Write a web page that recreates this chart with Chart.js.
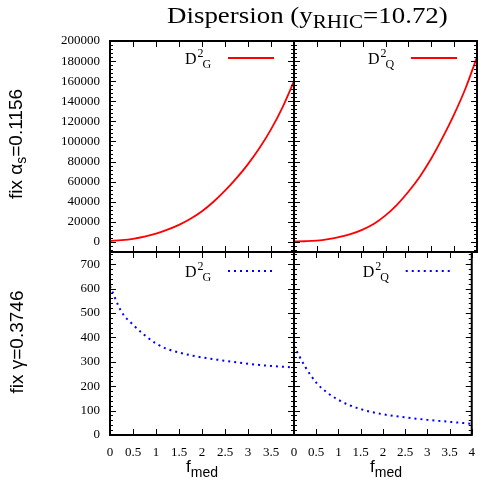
<!DOCTYPE html>
<html lang="en">
<head>
<meta charset="UTF-8" />
<title>Dispersion</title>
<script src="https://cdn.jsdelivr.net/npm/chart.js@4.4.0/dist/chart.umd.min.js"></script>
<style>
  body { margin: 0; background: #fff; }
  #wrap { position: relative; width: 485px; height: 480px; overflow: hidden; }
  #wrap canvas { position: absolute; left: 0; top: 0; }
  .title { position: absolute; left: 167px; top: 3px; font-family: "Liberation Serif", serif; font-size: 23px; white-space: nowrap; transform: scaleX(1.17); transform-origin: left top; }
  .title sub { font-size: 18px; vertical-align: -5px; }
  .ylab { position: absolute; font-family: "Liberation Sans", sans-serif; font-size: 19px; white-space: nowrap; transform: translate(-50%, -50%) rotate(-90deg); }
  .ylab sub { font-size: 14px; vertical-align: -4px; }
  .xlab { position: absolute; font-family: "Liberation Sans", sans-serif; font-size: 17px; white-space: nowrap; }
  .xlab sub { font-size: 14px; vertical-align: -5px; }
</style>
</head>
<body>
<div id="wrap">
  <canvas id="cTL" width="485" height="480"></canvas>
  <canvas id="cTR" width="485" height="480"></canvas>
  <canvas id="cBL" width="485" height="480"></canvas>
  <canvas id="cBR" width="485" height="480"></canvas>
  <div class="title">Dispersion (y<sub>RHIC</sub>=10.72)</div>
  <div class="ylab" style="left:17px;top:144px;">fix α<sub>s</sub>=0.1156</div>
  <div class="ylab" style="left:17px;top:342px;">fix γ=0.3746</div>
  <div class="xlab" style="left:186px;top:457px;">f<sub>med</sub></div>
  <div class="xlab" style="left:370px;top:457px;">f<sub>med</sub></div>
</div>
<script>
  // f_med sample points
  const fmed = [0, 0.25, 0.5, 0.75, 1, 1.25, 1.5, 1.75, 2, 2.25, 2.5, 2.75, 3, 3.25, 3.5, 3.75, 4];

  // fixed alpha_s (top row)
  const topG = [1000, 1800, 3100, 5200, 8200, 12200, 17000, 23000, 30500, 40000, 51000, 63500, 77500, 93500, 112000, 134000, 160000];
  const topQ = [500, 700, 1300, 2800, 5000, 8000, 12300, 18100, 26500, 37000, 50000, 65000, 83000, 104000, 127000, 153000, 184000];

  // fixed gamma (bottom row)
  const botG = [610, 505, 452, 410, 375, 352, 338, 327, 318, 311, 304, 298, 292, 287, 283, 280, 277];
  const botQ = [365, 280, 215, 173, 144, 122, 106, 94, 85, 78, 72, 67, 62, 58, 54, 50, 46];

  // tick labels
  const xTicks = [0, 0.5, 1, 1.5, 2, 2.5, 3, 3.5, 4];
  const yTopTicks = [0, 20000, 40000, 60000, 80000, 100000, 120000, 140000, 160000, 180000, 200000];
  const yBotTicks = [0, 100, 200, 300, 400, 500, 600, 700];

  const serif = "'Liberation Serif', 'Times New Roman', serif";

  function pts(ys) {
    return fmed.map((f, i) => ({ x: f, y: ys[i] }));
  }

  // gnuplot-like frame: border + inward ticks on all four sides, plus the key
  const framePlugin = {
    id: "frame",
    afterDraw(chart, args, opts) {
      const { ctx, chartArea: a, scales } = chart;
      const x = scales.x, y = scales.y;
      ctx.save();
      ctx.strokeStyle = "#000";
      ctx.lineWidth = 1;
      ctx.beginPath();
      x.ticks.forEach((t) => {
        const px = Math.round(x.getPixelForValue(t.value)) + 0.5;
        ctx.moveTo(px, a.bottom); ctx.lineTo(px, a.bottom - 6);
        ctx.moveTo(px, a.top); ctx.lineTo(px, a.top + 6);
      });
      y.ticks.forEach((t) => {
        const py = Math.round(y.getPixelForValue(t.value)) + 0.5;
        ctx.moveTo(a.left, py); ctx.lineTo(a.left + 6, py);
        ctx.moveTo(a.right, py); ctx.lineTo(a.right - 6, py);
      });
      const m = opts.minor;
      for (let v = Math.ceil(y.min / m) * m; v <= y.max; v += m) {
        const py = Math.round(y.getPixelForValue(v)) + 0.5;
        ctx.moveTo(a.left, py); ctx.lineTo(a.left + 3, py);
        ctx.moveTo(a.right, py); ctx.lineTo(a.right - 3, py);
      }
      ctx.stroke();
      ctx.lineWidth = 2;
      ctx.strokeRect(a.left, a.top, a.right - a.left, a.bottom - a.top);

      // key
      const ds = chart.data.datasets[0];
      const tx = a.right - 109, ty = a.top + opts.keyDy + 6;
      ctx.fillStyle = "#000";
      ctx.textBaseline = "alphabetic";
      ctx.font = "16px " + serif;
      ctx.fillText("D", tx, ty);
      const dw = ctx.measureText("D").width;
      ctx.font = "12px " + serif;
      ctx.fillText("2", tx + dw + 1, ty - 7);
      const sw = ctx.measureText("2").width;
      ctx.fillText(opts.sub, tx + dw + sw, ty + 4);
      ctx.strokeStyle = ds.borderColor;
      ctx.lineWidth = ds.borderWidth;
      ctx.setLineDash(ds.borderDash || []);
      ctx.beginPath();
      ctx.moveTo(a.right - 66, a.top + opts.keyDy);
      ctx.lineTo(a.right - 20, a.top + opts.keyDy);
      ctx.stroke();
      ctx.restore();
    },
  };

  function makePanel(id, data, style, cfg) {
    const ctx = document.querySelector(id).getContext("2d");
    return new Chart(ctx, {
      type: "line",
      data: {
        datasets: [
          Object.assign({ data: pts(data), pointRadius: 0, fill: false, cubicInterpolationMode: "monotone" }, style),
        ],
      },
      options: {
        responsive: false,
        animation: false,
        layout: { padding: cfg.padding },
        plugins: {
          legend: { display: false },
          tooltip: { enabled: false },
          frame: { minor: cfg.minor, sub: cfg.sub, keyDy: cfg.keyDy },
        },
        scales: {
          x: {
            type: "linear",
            min: 0,
            max: 4,
            grid: { display: false, drawTicks: false },
            border: { display: false },
            afterBuildTicks: (s) => { s.ticks = xTicks.map((v) => ({ value: v })); },
            afterFit: (s) => { s.height = cfg.xh; },
            ticks: {
              display: cfg.xLabels,
              padding: 10,
              maxRotation: 0,
              autoSkip: false,
              color: "#000",
              font: { family: serif, size: 13 },
              callback: (v) => (cfg.skipLast && v === 4 ? "" : String(v)),
            },
          },
          y: {
            type: "linear",
            min: cfg.ymin,
            max: cfg.ymax,
            grid: { display: false, drawTicks: false },
            border: { display: false },
            afterBuildTicks: (s) => { s.ticks = cfg.yTicks.map((v) => ({ value: v })); },
            afterFit: (s) => { s.width = cfg.yw; },
            ticks: {
              display: cfg.yLabels,
              padding: 10,
              color: "#000",
              font: { family: serif, size: 13 },
              callback: (v) => String(v),
            },
          },
        },
      },
      plugins: [framePlugin],
    });
  }

  const red = { borderColor: "#ff0000", borderWidth: 1.8 };
  const blue = { borderColor: "#0000ff", borderWidth: 2, borderDash: [2, 4] };

  makePanel("#cTL", topG, red, {
    padding: { left: 50, top: 41, right: 191, bottom: 0 }, yw: 60, xh: 228,
    ymin: -10000, ymax: 200000, yTicks: yTopTicks, minor: 4000,
    yLabels: true, xLabels: false, skipLast: true, sub: "G", keyDy: 17,
  });
  makePanel("#cTR", topQ, red, {
    padding: { left: 294, top: 41, right: 8, bottom: 0 }, yw: 0, xh: 228,
    ymin: -10000, ymax: 200000, yTicks: yTopTicks, minor: 4000,
    yLabels: false, xLabels: false, skipLast: false, sub: "Q", keyDy: 17,
  });
  makePanel("#cBL", botG, blue, {
    padding: { left: 50, top: 252, right: 191, bottom: 0 }, yw: 60, xh: 45,
    ymin: 0, ymax: 750, yTicks: yBotTicks, minor: 20,
    yLabels: true, xLabels: true, skipLast: true, sub: "G", keyDy: 19,
  });
  makePanel("#cBR", botQ, blue, {
    padding: { left: 294, top: 252, right: 8, bottom: 0 }, yw: 0, xh: 45,
    ymin: 0, ymax: 750, yTicks: yBotTicks, minor: 20,
    yLabels: false, xLabels: true, skipLast: false, sub: "Q", keyDy: 19,
  });
</script>
</body>
</html>
